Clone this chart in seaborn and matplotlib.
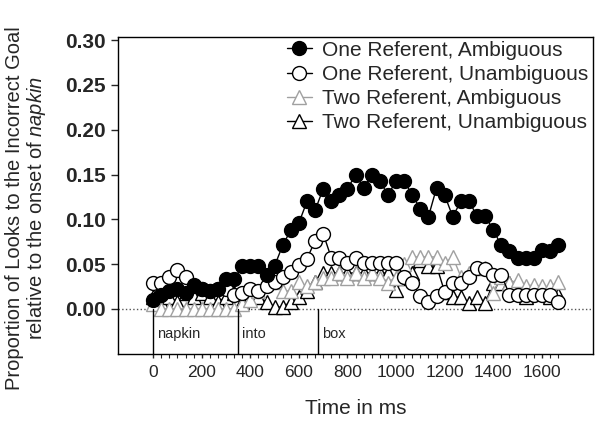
import numpy as np
import pandas as pd
import matplotlib
matplotlib.use("Agg")
import matplotlib.pyplot as plt
import seaborn as sns

# tiempo en ms (una muestra cada 33.3 ms)
tiempo = np.arange(51) * (1000 / 30)

one_amb = [0.010, 0.015, 0.020, 0.022, 0.018, 0.027, 0.022, 0.020, 0.022, 0.033,
           0.033, 0.048, 0.048, 0.048, 0.038, 0.048, 0.071, 0.088, 0.096, 0.120,
           0.110, 0.134, 0.120, 0.127, 0.134, 0.150, 0.135, 0.150, 0.143, 0.127,
           0.143, 0.143, 0.127, 0.112, 0.103, 0.135, 0.127, 0.103, 0.120, 0.120,
           0.104, 0.104, 0.088, 0.071, 0.065, 0.057, 0.057, 0.057, 0.066, 0.065,
           0.071]
one_unamb = [0.029, 0.029, 0.036, 0.043, 0.036, 0.025, 0.022, 0.020, 0.022, 0.022,
             0.015, 0.018, 0.022, 0.020, 0.025, 0.030, 0.036, 0.041, 0.049, 0.056,
             0.076, 0.084, 0.057, 0.057, 0.051, 0.057, 0.051, 0.051, 0.051, 0.051,
             0.051, 0.036, 0.029, 0.014, 0.008, 0.014, 0.019, 0.029, 0.029, 0.036,
             0.046, 0.044, 0.038, 0.038, 0.016, 0.016, 0.016, 0.016, 0.016, 0.016,
             0.008]
two_amb = [0.005, 0.000, 0.000, 0.000, 0.000, 0.000, 0.000, 0.000, 0.000, 0.000,
           0.000, 0.005, 0.010, 0.020, 0.030, 0.030, 0.020, 0.020, 0.030, 0.025,
           0.030, 0.035, 0.035, 0.040, 0.035, 0.040, 0.035, 0.040, 0.035, 0.029,
           0.035, 0.050, 0.058, 0.058, 0.058, 0.058, 0.051, 0.058, 0.036, 0.040,
           0.046, 0.046, 0.018, 0.036, 0.029, 0.032, 0.025, 0.027, 0.025, 0.025,
           0.030]
two_unamb = [0.013, 0.008, 0.013, 0.008, 0.018, 0.013, 0.018, 0.013, 0.008, 0.013,
             0.018, 0.008, 0.013, 0.013, 0.008, 0.002, 0.002, 0.008, 0.013, 0.020,
             0.030, 0.040, 0.040, 0.040, 0.040, 0.040, 0.040, 0.040, 0.040, 0.040,
             0.021, 0.035, 0.040, 0.055, 0.048, 0.048, 0.019, 0.013, 0.013, 0.006,
             0.013, 0.006, 0.029, 0.029, 0.029, 0.019, 0.013, 0.020, 0.020, 0.013,
             0.015]

palabras = ["napkin", "into", "box"]
inicio_palabras = [0, 350, 680]

sns.set_style("ticks")
plt.rcParams['font.family'] = ['Liberation Sans', 'DejaVu Sans']
plt.rcParams['mathtext.fontset'] = 'custom'
plt.rcParams['mathtext.it'] = 'Liberation Sans:italic'
plt.rcParams['mathtext.rm'] = 'Liberation Sans'

fig = plt.figure(figsize=(6, 4.32), dpi=100)
ax = fig.add_axes([0.197, 0.181, 0.791, 0.733])

series = [
    ("Two Referent, Unambiguous", two_unamb, "^", "white", "black"),
    ("Two Referent, Ambiguous", two_amb, "^", "white", "#a0a0a0"),
    ("One Referent, Unambiguous", one_unamb, "o", "white", "black"),
    ("One Referent, Ambiguous", one_amb, "o", "black", "black"),
]
for nombre, valores, marca, relleno, borde in series:
    df = pd.DataFrame({"tiempo": tiempo, "prop": valores})
    sns.lineplot(data=df, x="tiempo", y="prop", ax=ax, color=borde, lw=1,
                 marker=marca, markersize=10, markerfacecolor=relleno,
                 markeredgecolor=borde, markeredgewidth=1, label=nombre)

ax.axhline(0, color="#555555", lw=1, ls=":", zorder=1)
for palabra, t in zip(palabras, inicio_palabras):
    ax.plot([t, t], [-0.05, 0], color="black", lw=1)
    ax.text(t + 15, -0.028, palabra, fontsize=10.5, va="center", ha="left")

ax.set_xlim(-144, 1810)
ax.set_ylim(-0.0502, 0.3034)
ax.set_yticks(np.arange(0, 0.31, 0.05))
ax.set_yticklabels([f"{v:.2f}" for v in np.arange(0, 0.31, 0.05)],
                   fontsize=15, fontweight="bold")
ax.set_xticks(np.arange(0, 1601, 200))
ax.set_xticks(tiempo, minor=True)
ax.tick_params(axis="x", labelsize=12.5, length=3, pad=5, width=1)
ax.tick_params(axis="x", which="minor", length=3, width=0.8)
ax.tick_params(axis="y", length=5, width=1, pad=4)
for s in ax.spines.values():
    s.set_visible(True)
    s.set_linewidth(1)
    s.set_color("black")

ax.set_xlabel("Time in ms", fontsize=15, labelpad=14)
ax.set_ylabel("Proportion of Looks to the Incorrect Goal\n"
              "relative to the onset of $\\mathit{napkin}$", fontsize=14.5,
              linespacing=1.1)
ax.yaxis.set_label_coords(-0.147, 0.46)

h, l = ax.get_legend_handles_labels()
ax.legend(h[::-1], l[::-1], loc="upper right", frameon=False, fontsize=15,
          handlelength=1.2, handletextpad=0.5, labelspacing=0.25,
          borderaxespad=0.3, bbox_to_anchor=(1.022, 1.035))

fig.savefig("out.png", dpi=100)
